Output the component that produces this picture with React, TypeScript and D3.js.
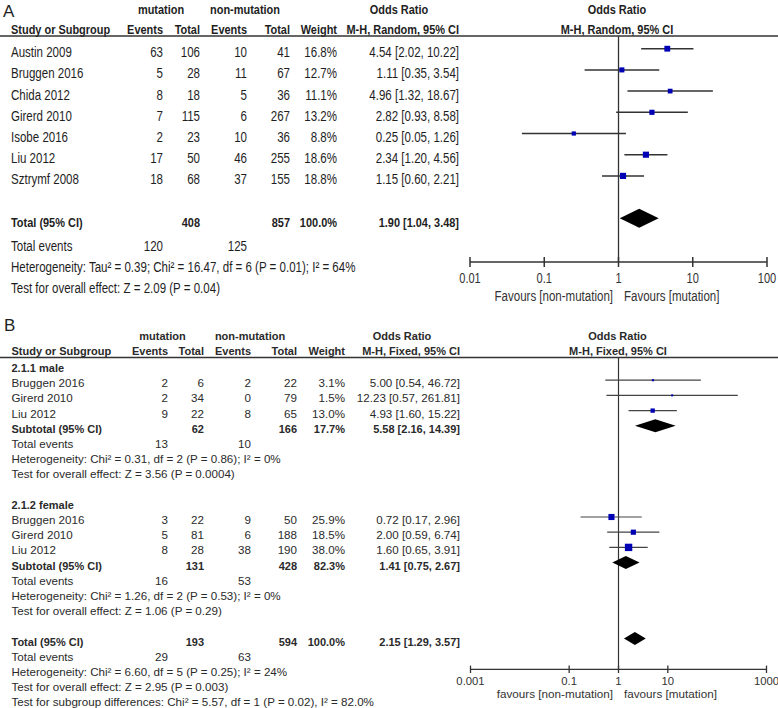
import React from 'react';
import * as d3 from 'd3';

// ---------- Panel A data ----------
const studiesA = ['Austin 2009', 'Bruggen 2016', 'Chida 2012', 'Girerd 2010', 'Isobe 2016', 'Liu 2012', 'Sztrymf 2008'];
const mutEventsA = [63, 5, 8, 7, 2, 17, 18];
const mutTotalA = [106, 28, 18, 115, 23, 50, 68];
const nonEventsA = [10, 11, 5, 6, 10, 46, 37];
const nonTotalA = [41, 67, 36, 267, 36, 255, 155];
const weightA = [16.8, 12.7, 11.1, 13.2, 8.8, 18.6, 18.8];
const orA = [4.54, 1.11, 4.96, 2.82, 0.25, 2.34, 1.15];
const loA = [2.02, 0.35, 1.32, 0.93, 0.05, 1.2, 0.6];
const hiA = [10.22, 3.54, 18.67, 8.58, 1.26, 4.56, 2.21];
const totalA = [1.9, 1.04, 3.48];
const totalsA = [408, 857];
const totalEventsA = [120, 125];
const heteroA = 'Heterogeneity: Tau² = 0.39; Chi² = 16.47, df = 6 (P = 0.01); I² = 64%';
const overallA = 'Test for overall effect: Z = 2.09 (P = 0.04)';
const ticksA = [0.01, 0.1, 1, 10, 100];
const tickLabelsA = ['0.01', '0.1', '1', '10', '100'];

// ---------- Panel B data ----------
const groupNamesB = ['2.1.1 male', '2.1.2 female'];
const studiesB = [
  ['Bruggen 2016', 'Girerd 2010', 'Liu 2012'],
  ['Bruggen 2016', 'Girerd 2010', 'Liu 2012'],
];
const mutEventsB = [[2, 2, 9], [3, 5, 8]];
const mutTotalB = [[6, 34, 22], [22, 81, 28]];
const nonEventsB = [[2, 0, 8], [9, 6, 38]];
const nonTotalB = [[22, 79, 65], [50, 188, 190]];
const weightB = [[3.1, 1.5, 13.0], [25.9, 18.5, 38.0]];
const orB = [[5.0, 12.23, 4.93], [0.72, 2.0, 1.6]];
const loB = [[0.54, 0.57, 1.6], [0.17, 0.59, 0.65]];
const hiB = [[46.72, 261.81, 15.22], [2.96, 6.74, 3.91]];
const subTotalsB = [[62, 166], [131, 428]];
const subWeightB = [17.7, 82.3];
const subOrB = [[5.58, 2.16, 14.39], [1.41, 0.75, 2.67]];
const subEventsB = [[13, 10], [16, 53]];
const subHeteroB = [
  'Heterogeneity: Chi² = 0.31, df = 2 (P = 0.86); I² = 0%',
  'Heterogeneity: Chi² = 1.26, df = 2 (P = 0.53); I² = 0%',
];
const subOverallB = [
  'Test for overall effect: Z = 3.56 (P = 0.0004)',
  'Test for overall effect: Z = 1.06 (P = 0.29)',
];
const totalB = [2.15, 1.29, 3.57];
const totalsB = [193, 594];
const totalEventsB = [29, 63];
const heteroB = 'Heterogeneity: Chi² = 6.60, df = 5 (P = 0.25); I² = 24%';
const overallB = 'Test for overall effect: Z = 2.95 (P = 0.003)';
const subgroupB = 'Test for subgroup differences: Chi² = 5.57, df = 1 (P = 0.02), I² = 82.0%';
const ticksB = [0.001, 0.1, 1, 10, 1000];
const tickLabelsB = ['0.001', '0.1', '1', '10', '1000'];

// ---------- helpers ----------
const FONT = "'Liberation Sans', Arial, Helvetica, sans-serif";
const TXT = '#1e1e1e';
const LINE = '#333';
const BLUE = '#0000b4';

const f2 = (v: number) => v.toFixed(2);
const ciText = (o: number, l: number, h: number) => `${f2(o)} [${f2(l)}, ${f2(h)}]`;

function T(props: {
  x: number; y: number; anchor?: string; size: number; bold?: boolean; sx?: number; fill?: string; children: any;
}) {
  const { x, y, anchor = 'start', size, bold, sx = 1, fill = TXT, children } = props;
  return (
    <text
      transform={`translate(${x},${y}) scale(${sx},1)`}
      textAnchor={anchor as any}
      fontSize={size}
      fontWeight={bold ? 'bold' : 'normal'}
      fontFamily={FONT}
      fill={fill}
    >
      {children}
    </text>
  );
}

const diamond = (x: d3.ScaleLogarithmic<number, number>, v: number[], y: number, h: number) =>
  `M${x(v[1])},${y} L${x(v[0])},${y - h} L${x(v[2])},${y} L${x(v[0])},${y + h} Z`;

// ---------- Panel A ----------
function PanelA() {
  const NX = 0.79;
  const HX = 0.8;
  const x = d3.scaleLog().domain([0.01, 100]).range([470, 767]);
  const y = (i: number) => 48.7 + 21.2 * i;
  const bl = 8.5;
  const sz = 14.6;
  const hs = 13.7;
  const cols = { ev1: 163, tot1: 200, ev2: 247, tot2: 290, w: 337, or: 459 };
  const axisY = 262;
  return (
    <g>
      <T x={3} y={17} size={17}>A</T>
      <T x={161} y={14} size={hs} bold sx={HX} anchor="middle">mutation</T>
      <T x={245} y={14} size={hs} bold sx={HX} anchor="middle">non-mutation</T>
      <T x={399} y={14} size={hs} bold sx={HX} anchor="middle">Odds Ratio</T>
      <T x={617} y={14} size={hs} bold sx={HX} anchor="middle">Odds Ratio</T>
      <T x={11} y={34} size={hs} bold sx={HX}>Study or Subgroup</T>
      <T x={cols.ev1} y={34} size={hs} bold sx={HX} anchor="end">Events</T>
      <T x={cols.tot1} y={34} size={hs} bold sx={HX} anchor="end">Total</T>
      <T x={cols.ev2} y={34} size={hs} bold sx={HX} anchor="end">Events</T>
      <T x={cols.tot2} y={34} size={hs} bold sx={HX} anchor="end">Total</T>
      <T x={cols.w} y={34} size={hs} bold sx={HX} anchor="end">Weight</T>
      <T x={cols.or} y={34} size={hs} bold sx={HX} anchor="end">M-H, Random, 95% CI</T>
      <T x={617} y={34} size={hs} bold sx={HX} anchor="middle">M-H, Random, 95% CI</T>
      <line x1={0} x2={778} y1={36} y2={36} stroke={LINE} strokeWidth={1.5} />
      <line x1={x(1)} x2={x(1)} y1={36} y2={axisY} stroke={LINE} strokeWidth={1.3} />

      {studiesA.map((s, i) => {
        const cy = y(i);
        const side = 1.42 * Math.sqrt(weightA[i]);
        return (
          <g key={s}>
            <T x={11} y={cy + bl} size={sz} sx={NX}>{s}</T>
            <T x={cols.ev1} y={cy + bl} size={sz} sx={NX} anchor="end">{mutEventsA[i]}</T>
            <T x={cols.tot1} y={cy + bl} size={sz} sx={NX} anchor="end">{mutTotalA[i]}</T>
            <T x={cols.ev2} y={cy + bl} size={sz} sx={NX} anchor="end">{nonEventsA[i]}</T>
            <T x={cols.tot2} y={cy + bl} size={sz} sx={NX} anchor="end">{nonTotalA[i]}</T>
            <T x={cols.w} y={cy + bl} size={sz} sx={NX} anchor="end">{weightA[i].toFixed(1)}%</T>
            <T x={cols.or} y={cy + bl} size={sz} sx={NX} anchor="end">{ciText(orA[i], loA[i], hiA[i])}</T>
            <line x1={x(loA[i])} x2={x(hiA[i])} y1={cy} y2={cy} stroke={LINE} strokeWidth={1.5} />
            <rect x={x(orA[i]) - side / 2} y={cy - side / 2} width={side} height={side} fill={BLUE} />
          </g>
        );
      })}

      {(() => {
        const cy = y(8);
        return (
          <g>
            <T x={11} y={cy + bl} size={hs} bold sx={HX}>Total (95% CI)</T>
            <T x={cols.tot1} y={cy + bl} size={hs} bold sx={HX} anchor="end">{totalsA[0]}</T>
            <T x={cols.tot2} y={cy + bl} size={hs} bold sx={HX} anchor="end">{totalsA[1]}</T>
            <T x={cols.w} y={cy + bl} size={hs} bold sx={HX} anchor="end">100.0%</T>
            <T x={cols.or} y={cy + bl} size={hs} bold sx={HX} anchor="end">{ciText(totalA[0], totalA[1], totalA[2])}</T>
            <path d={diamond(x, totalA, cy, 9.5)} fill="#000" />
          </g>
        );
      })()}

      <T x={11} y={251} size={sz} sx={NX}>Total events</T>
      <T x={cols.ev1} y={251} size={sz} sx={NX} anchor="end">{totalEventsA[0]}</T>
      <T x={cols.ev2} y={251} size={sz} sx={NX} anchor="end">{totalEventsA[1]}</T>
      <T x={11} y={272} size={sz} sx={NX}>{heteroA}</T>
      <T x={11} y={293} size={sz} sx={NX}>{overallA}</T>

      <line x1={x(0.01)} x2={x(100)} y1={axisY} y2={axisY} stroke={LINE} strokeWidth={1.5} />
      {ticksA.map((t, i) => (
        <g key={t}>
          <line x1={x(t)} x2={x(t)} y1={axisY - 5} y2={axisY + 5} stroke={LINE} strokeWidth={1.5} />
          <T x={x(t)} y={282.5} size={14} sx={NX} anchor="middle" fill="#333">{tickLabelsA[i]}</T>
        </g>
      ))}
      <T x={613} y={300.5} size={14.6} sx={NX} anchor="end" fill="#333">Favours [non-mutation]</T>
      <T x={624} y={300.5} size={14.6} sx={NX} fill="#333">Favours [mutation]</T>
    </g>
  );
}

// ---------- Panel B ----------
function PanelB() {
  const x = d3.scaleLog().domain([0.001, 1000]).range([470.5, 766.5]);
  const y = (i: number) => 365 + 15.2 * i;
  const bl = 7;
  const sz = 11.6;
  const bs = 11;
  const cols = { ev1: 168, tot1: 204, ev2: 251, tot2: 297, w: 345, or: 460 };
  const axisY = 669.3;
  const TB = '#2a2a2a';
  const rowsOut: any[] = [];

  groupNamesB.forEach((g, gi) => {
    const base = gi * 9;
    rowsOut.push(<T key={`g${gi}`} x={11.5} y={y(base) + bl} size={bs} bold fill={TB}>{g}</T>);
    studiesB[gi].forEach((s, i) => {
      const cy = y(base + 1 + i);
      const side = Math.max(2, 1.2 * Math.sqrt(weightB[gi][i]));
      rowsOut.push(
        <g key={`s${gi}${i}`}>
          <T x={11.5} y={cy + bl} size={sz} fill={TB}>{s}</T>
          <T x={cols.ev1} y={cy + bl} size={sz} anchor="end" fill={TB}>{mutEventsB[gi][i]}</T>
          <T x={cols.tot1} y={cy + bl} size={sz} anchor="end" fill={TB}>{mutTotalB[gi][i]}</T>
          <T x={cols.ev2} y={cy + bl} size={sz} anchor="end" fill={TB}>{nonEventsB[gi][i]}</T>
          <T x={cols.tot2} y={cy + bl} size={sz} anchor="end" fill={TB}>{nonTotalB[gi][i]}</T>
          <T x={cols.w} y={cy + bl} size={sz} anchor="end" fill={TB}>{weightB[gi][i].toFixed(1)}%</T>
          <T x={cols.or} y={cy + bl} size={sz} anchor="end" fill={TB}>{ciText(orB[gi][i], loB[gi][i], hiB[gi][i])}</T>
          <line x1={x(loB[gi][i])} x2={x(hiB[gi][i])} y1={cy} y2={cy} stroke="#444" strokeWidth={1.2} />
          <rect x={x(orB[gi][i]) - side / 2} y={cy - side / 2} width={side} height={side} fill={BLUE} />
        </g>
      );
    });
    const sy = y(base + 4);
    rowsOut.push(
      <g key={`st${gi}`}>
        <T x={11.5} y={sy + bl} size={bs} bold fill={TB}>Subtotal (95% CI)</T>
        <T x={cols.tot1} y={sy + bl} size={bs} bold anchor="end" fill={TB}>{subTotalsB[gi][0]}</T>
        <T x={cols.tot2} y={sy + bl} size={bs} bold anchor="end" fill={TB}>{subTotalsB[gi][1]}</T>
        <T x={cols.w} y={sy + bl} size={bs} bold anchor="end" fill={TB}>{subWeightB[gi].toFixed(1)}%</T>
        <T x={cols.or} y={sy + bl} size={bs} bold anchor="end" fill={TB}>{ciText(subOrB[gi][0], subOrB[gi][1], subOrB[gi][2])}</T>
        <path d={diamond(x, subOrB[gi], sy, 6.5)} fill="#000" />
        <T x={11.5} y={y(base + 5) + bl} size={sz} fill={TB}>Total events</T>
        <T x={cols.ev1} y={y(base + 5) + bl} size={sz} anchor="end" fill={TB}>{subEventsB[gi][0]}</T>
        <T x={cols.ev2} y={y(base + 5) + bl} size={sz} anchor="end" fill={TB}>{subEventsB[gi][1]}</T>
        <T x={11.5} y={y(base + 6) + bl} size={sz} fill={TB}>{subHeteroB[gi]}</T>
        <T x={11.5} y={y(base + 7) + bl} size={sz} fill={TB}>{subOverallB[gi]}</T>
      </g>
    );
  });

  const ty = y(18);
  return (
    <g>
      <T x={4} y={331} size={17}>B</T>
      <T x={162.5} y={340} size={bs} bold anchor="middle" fill={TB}>mutation</T>
      <T x={250} y={340} size={bs} bold anchor="middle" fill={TB}>non-mutation</T>
      <T x={402} y={340} size={bs} bold anchor="middle" fill={TB}>Odds Ratio</T>
      <T x={617.5} y={340} size={bs} bold anchor="middle" fill={TB}>Odds Ratio</T>
      <T x={11.5} y={355} size={bs} bold fill={TB}>Study or Subgroup</T>
      <T x={cols.ev1} y={355} size={bs} bold anchor="end" fill={TB}>Events</T>
      <T x={cols.tot1} y={355} size={bs} bold anchor="end" fill={TB}>Total</T>
      <T x={cols.ev2} y={355} size={bs} bold anchor="end" fill={TB}>Events</T>
      <T x={cols.tot2} y={355} size={bs} bold anchor="end" fill={TB}>Total</T>
      <T x={cols.w} y={355} size={bs} bold anchor="end" fill={TB}>Weight</T>
      <T x={cols.or} y={355} size={bs} bold anchor="end" fill={TB}>M-H, Fixed, 95% CI</T>
      <T x={618} y={355} size={bs} bold anchor="middle" fill={TB}>M-H, Fixed, 95% CI</T>
      <line x1={0} x2={778} y1={357.5} y2={357.5} stroke={LINE} strokeWidth={1.3} />
      <line x1={x(1)} x2={x(1)} y1={357.5} y2={axisY} stroke={LINE} strokeWidth={1.2} />

      {rowsOut}

      <T x={11.5} y={ty + bl} size={bs} bold fill={TB}>Total (95% CI)</T>
      <T x={cols.tot1} y={ty + bl} size={bs} bold anchor="end" fill={TB}>{totalsB[0]}</T>
      <T x={cols.tot2} y={ty + bl} size={bs} bold anchor="end" fill={TB}>{totalsB[1]}</T>
      <T x={cols.w} y={ty + bl} size={bs} bold anchor="end" fill={TB}>100.0%</T>
      <T x={cols.or} y={ty + bl} size={bs} bold anchor="end" fill={TB}>{ciText(totalB[0], totalB[1], totalB[2])}</T>
      <path d={diamond(x, totalB, ty, 6.5)} fill="#000" />
      <T x={11.5} y={y(19) + bl} size={sz} fill={TB}>Total events</T>
      <T x={cols.ev1} y={y(19) + bl} size={sz} anchor="end" fill={TB}>{totalEventsB[0]}</T>
      <T x={cols.ev2} y={y(19) + bl} size={sz} anchor="end" fill={TB}>{totalEventsB[1]}</T>
      <T x={11.5} y={y(20) + bl} size={sz} fill={TB}>{heteroB}</T>
      <T x={11.5} y={y(21) + bl} size={sz} fill={TB}>{overallB}</T>
      <T x={11.5} y={y(22) + bl} size={sz} fill={TB}>{subgroupB}</T>

      <line x1={x(0.001)} x2={x(1000)} y1={axisY} y2={axisY} stroke={LINE} strokeWidth={1.3} />
      {ticksB.map((t, i) => (
        <g key={t}>
          <line x1={x(t)} x2={x(t)} y1={axisY - 3.7} y2={axisY + 3.7} stroke={LINE} strokeWidth={1.3} />
          <T x={x(t)} y={685} size={11.3} anchor="middle" fill="#333">{tickLabelsB[i]}</T>
        </g>
      ))}
      <T x={613} y={698} size={11.7} anchor="end" fill="#333">favours [non-mutation]</T>
      <T x={624} y={698} size={11.7} fill="#333">favours [mutation]</T>
    </g>
  );
}

export default function App() {
  return (
    <svg
      width={778}
      height={708}
      viewBox="0 0 778 708"
      style={{ position: 'absolute', left: 0, top: 0, background: '#fff', display: 'block' }}
    >
      <rect width={778} height={708} fill="#fff" />
      <PanelA />
      <PanelB />
    </svg>
  );
}
